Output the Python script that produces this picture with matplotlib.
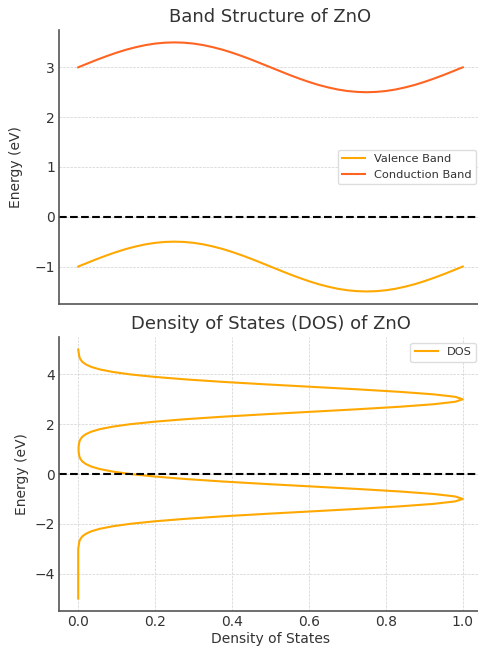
import numpy as np
import matplotlib
matplotlib.use("Agg")
import matplotlib.pyplot as plt

# Band structure (k from 0 to 1 in steps of 0.025)
k_points = np.linspace(0, 1, 41)
valence_band = [-1.0, -0.922, -0.845, -0.773, -0.706, -0.646, -0.596, -0.554, -0.524, -0.506,
                -0.5, -0.506, -0.524, -0.554, -0.596, -0.646, -0.706, -0.773, -0.845, -0.922,
                -1.0, -1.078, -1.155, -1.227, -1.294, -1.354, -1.404, -1.446, -1.476, -1.494,
                -1.5, -1.494, -1.476, -1.446, -1.404, -1.354, -1.294, -1.227, -1.155, -1.078,
                -1.0]
conduction_band = [3.0, 3.078, 3.155, 3.227, 3.294, 3.354, 3.404, 3.446, 3.476, 3.494,
                   3.5, 3.494, 3.476, 3.446, 3.404, 3.354, 3.294, 3.227, 3.155, 3.078,
                   3.0, 2.922, 2.845, 2.773, 2.706, 2.646, 2.596, 2.554, 2.524, 2.506,
                   2.5, 2.506, 2.524, 2.554, 2.596, 2.646, 2.706, 2.773, 2.845, 2.922,
                   3.0]

# Density of states on an energy grid from -5 to 5 eV in steps of 0.1
energies = np.linspace(-5, 5, 101)
dos = [0.0] * 21 + [
    0.001, 0.002, 0.003, 0.006, 0.011, 0.020, 0.034, 0.056, 0.089, 0.135,
    0.198, 0.278, 0.375, 0.487, 0.607, 0.726, 0.835, 0.923, 0.980, 1.000,
    0.980, 0.923, 0.835, 0.726, 0.607, 0.487, 0.375, 0.278, 0.198, 0.135,
    0.089, 0.056, 0.034, 0.020, 0.011, 0.006, 0.003, 0.002, 0.001, 0.001,
    0.001, 0.002, 0.003, 0.006, 0.011, 0.020, 0.034, 0.056, 0.089, 0.135,
    0.198, 0.278, 0.375, 0.487, 0.607, 0.726, 0.835, 0.923, 0.980, 1.000,
    0.980, 0.923, 0.835, 0.726, 0.607, 0.487, 0.375, 0.278, 0.198, 0.135,
    0.089, 0.056, 0.034, 0.020, 0.011, 0.006, 0.003, 0.002, 0.001, 0.000,
]

valence_color = "#ffa800"
conduction_color = "#ff6422"
spine_color = "#555555"
text_color = "#333333"


def style_axes(ax):
    for side in ["top", "right"]:
        ax.spines[side].set_visible(False)
    for side in ["left", "bottom"]:
        ax.spines[side].set_color(spine_color)
        ax.spines[side].set_linewidth(1.2)
    ax.tick_params(length=0, pad=3, labelsize=10, colors=text_color)
    ax.grid(True, linestyle="--", linewidth=0.5, color="#d0d0d0")
    ax.set_axisbelow(True)


fig = plt.figure(figsize=(4.78, 6.48), dpi=100)
ax1 = fig.add_axes([0.1234, 0.531, 0.885, 0.4228])
ax2 = fig.add_axes([0.1234, 0.0571, 0.885, 0.4228])

# Top: band structure
ax1.plot(k_points, valence_band, color=valence_color, linewidth=1.5, label="Valence Band")
ax1.plot(k_points, conduction_band, color=conduction_color, linewidth=1.5, label="Conduction Band")
ax1.axhline(0, color="black", linestyle="--", linewidth=1.5)
style_axes(ax1)
ax1.set_xticks([])
ax1.set_yticks([-1, 0, 1, 2, 3])
ax1.set_ylabel("Energy (eV)", fontsize=10, color=text_color, labelpad=8)
ax1.set_title("Band Structure of ZnO", fontsize=13, color=text_color, pad=6)
ax1.legend(loc="center right", fontsize=8.2, labelcolor=text_color, framealpha=1, edgecolor="#dddddd")

# Bottom: density of states
ax2.plot(dos, energies, color=valence_color, linewidth=1.5, label="DOS")
ax2.axhline(0, color="black", linestyle="--", linewidth=1.5)
style_axes(ax2)
ax2.set_xticks([0.0, 0.2, 0.4, 0.6, 0.8, 1.0])
ax2.set_yticks([-4, -2, 0, 2, 4])
ax2.set_xlabel("Density of States", fontsize=10, color=text_color, labelpad=2)
ax2.set_ylabel("Energy (eV)", fontsize=10, color=text_color, labelpad=4)
ax2.set_title("Density of States (DOS) of ZnO", fontsize=13, color=text_color, pad=6)
ax2.legend(loc="upper right", fontsize=8.2, labelcolor=text_color, framealpha=1, edgecolor="#dddddd")

fig.savefig("out.png", dpi=100)
